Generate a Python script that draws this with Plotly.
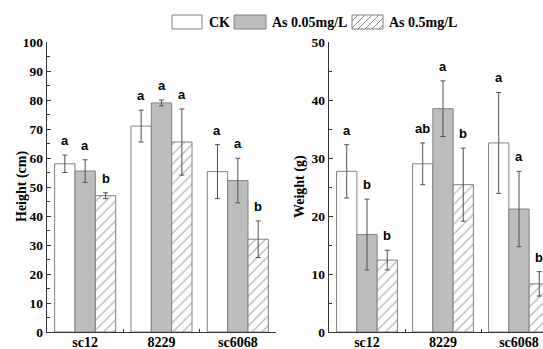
import plotly.graph_objects as go

# ---------------- data ----------------
groups = ["sc12", "8229", "sc6068"]
treatments = ["CK", "As 0.05mg/L", "As 0.5mg/L"]

height_ck = [58.0, 71.0, 55.3]
height_ck_err = [3.0, 5.5, 9.3]
height_as005 = [55.5, 79.0, 52.2]
height_as005_err = [3.9, 1.0, 7.7]
height_as05 = [47.0, 65.5, 32.0]
height_as05_err = [1.0, 11.4, 6.3]
height_letters_ck = ["a", "a", "a"]
height_letters_as005 = ["a", "a", "a"]
height_letters_as05 = ["b", "a", "b"]

weight_ck = [27.7, 29.0, 32.6]
weight_ck_err = [4.6, 3.6, 8.7]
weight_as005 = [16.8, 38.5, 21.2]
weight_as005_err = [6.1, 4.8, 6.5]
weight_as05 = [12.4, 25.4, 8.3]
weight_as05_err = [1.7, 6.3, 2.1]
weight_letters_ck = ["a", "ab", "a"]
weight_letters_as005 = ["b", "a", "a"]
weight_letters_as05 = ["b", "b", "b"]

height_ticks = [0, 10, 20, 30, 40, 50, 60, 70, 80, 90, 100]
weight_ticks = [0, 10, 20, 30, 40, 50]

# ---------------- styles ----------------
W, H = 543, 349
ML, MR, MT, MB = 47, 0, 42, 17
PW, PH = W - ML - MR, H - MT - MB

SERIF = "Liberation Serif, Times New Roman, serif"
SANS = "Liberation Sans, Arial, sans-serif"
OUTLINE = "#808080"
GRAYFILL = "#bdbdbd"
ERRCOL = "#505050"
AXCOL = "#333333"
HATCH = "#6a6a6a"

styles = {
    "CK": dict(marker_color="white"),
    "As 0.05mg/L": dict(marker_color=GRAYFILL),
    "As 0.5mg/L": dict(marker_color="white",
                       marker_pattern=dict(shape="/", fgcolor=HATCH, bgcolor="white",
                                           size=7, solidity=0.18)),
}

fig = go.Figure()

panels = [
    ("x", "y", [height_ck, height_as005, height_as05],
     [height_ck_err, height_as005_err, height_as05_err],
     [height_letters_ck, height_letters_as005, height_letters_as05]),
    ("x2", "y2", [weight_ck, weight_as005, weight_as05],
     [weight_ck_err, weight_as005_err, weight_as05_err],
     [weight_letters_ck, weight_letters_as005, weight_letters_as05]),
]

annotations = []
bar_w = 0.8 / 3
for xa, ya, vals, errs, lets in panels:
    for k, t in enumerate(treatments):
        fig.add_trace(go.Bar(
            x=groups, y=vals[k], name=t, xaxis=xa, yaxis=ya, showlegend=False,
            marker_line=dict(color=OUTLINE, width=1),
            error_y=dict(type="data", array=errs[k], color=ERRCOL, thickness=1, width=2.5),
            **styles[t]))
        for i in range(len(groups)):
            annotations.append(dict(
                x=i + (k - 1) * bar_w, y=vals[k][i] + errs[k][i], xref=xa, yref=ya,
                text=lets[k][i], showarrow=False, yanchor="bottom", yshift=5,
                font=dict(family=SANS, size=13, color="black", weight="bold")))

# ---------------- legend (drawn) ----------------
def px(xp):
    return (xp - ML) / PW

def py(yp):
    return (H - MB - yp) / PH

shapes = []
leg_y0, leg_y1 = 15, 29
boxes = [(172, 202, 207, "CK", "white"),
         (234, 266, 270, "As 0.05mg/L", GRAYFILL),
         (352, 383, 387, "As 0.5mg/L", "white")]
for bi, (x0, x1, tx, label, fill) in enumerate(boxes):
    shapes.append(dict(type="rect", xref="paper", yref="paper",
                       x0=px(x0), x1=px(x1), y0=py(leg_y1), y1=py(leg_y0),
                       line=dict(color=OUTLINE, width=1), fillcolor=fill, layer="above"))
    if bi == 2:
        c = x0 + leg_y0 + 6
        while c < x1 + leg_y1:
            xs = max(x0, c - leg_y1)
            xe = min(x1, c - leg_y0)
            if xe > xs:
                shapes.append(dict(type="line", xref="paper", yref="paper",
                                   x0=px(xs), y0=py(c - xs), x1=px(xe), y1=py(c - xe),
                                   line=dict(color=HATCH, width=0.8), layer="above"))
            c += 7
    annotations.append(dict(x=px(tx), y=py(22), xref="paper", yref="paper", text=label,
                            showarrow=False, xanchor="left", yanchor="middle",
                            font=dict(family=SERIF, size=14, color="black", weight="bold")))

# axis titles
annotations.append(dict(x=px(12), y=py(187), xref="paper", yref="paper", text="Height (cm)",
                        showarrow=False, textangle=-90,
                        font=dict(family=SERIF, size=14, color="black", weight="bold")))
annotations.append(dict(x=px(300), y=py(187), xref="paper", yref="paper", text="Weight (g)",
                        showarrow=False, textangle=-90,
                        font=dict(family=SERIF, size=14, color="black", weight="bold")))

tickfont_y = dict(family=SERIF, size=13.5, color="black", weight="bold")
tickfont_x = dict(family=SERIF, size=14, color="black", weight="bold")

common_x = dict(type="category", showline=True, linecolor=AXCOL, linewidth=1.2,
                ticks="inside", ticklen=3, tickcolor=AXCOL, tickson="boundaries",
                tickfont=tickfont_x, showgrid=False, zeroline=False, fixedrange=True,
                automargin=False, ticklabelstandoff=-3)
common_y = dict(showline=True, linecolor=AXCOL, linewidth=1.2, ticks="inside", ticklen=4,
                tickcolor=AXCOL, tickfont=tickfont_y, showgrid=False, zeroline=False,
                automargin=False,
                minor=dict(ticks="inside", ticklen=2.5, tickcolor=AXCOL, dtick=5))

r_left = px(276)
r_start = px(329)
right_range_end = -0.5 + (W - 329) / 76.0

fig.update_layout(
    width=W, height=H,
    margin=dict(l=ML, r=MR, t=MT, b=MB, autoexpand=False),
    paper_bgcolor="white", plot_bgcolor="white",
    barmode="group", bargap=0.2, bargroupgap=0,
    showlegend=False,
    xaxis=dict(domain=[0, r_left], range=[-0.5, 2.5], **common_x),
    yaxis=dict(domain=[0, 1], range=[0, 100], tickvals=height_ticks, anchor="x", **common_y),
    xaxis2=dict(domain=[r_start, 1], range=[-0.5, right_range_end], anchor="y2", **common_x),
    yaxis2=dict(domain=[0, 1], range=[0, 50], tickvals=weight_ticks, anchor="x2", **common_y),
    annotations=annotations,
    shapes=shapes,
)

fig.write_html("out.html", config={"displayModeBar": False, "staticPlot": True},
               post_script="document.body.style.margin='0';document.body.style.overflow='hidden';")
